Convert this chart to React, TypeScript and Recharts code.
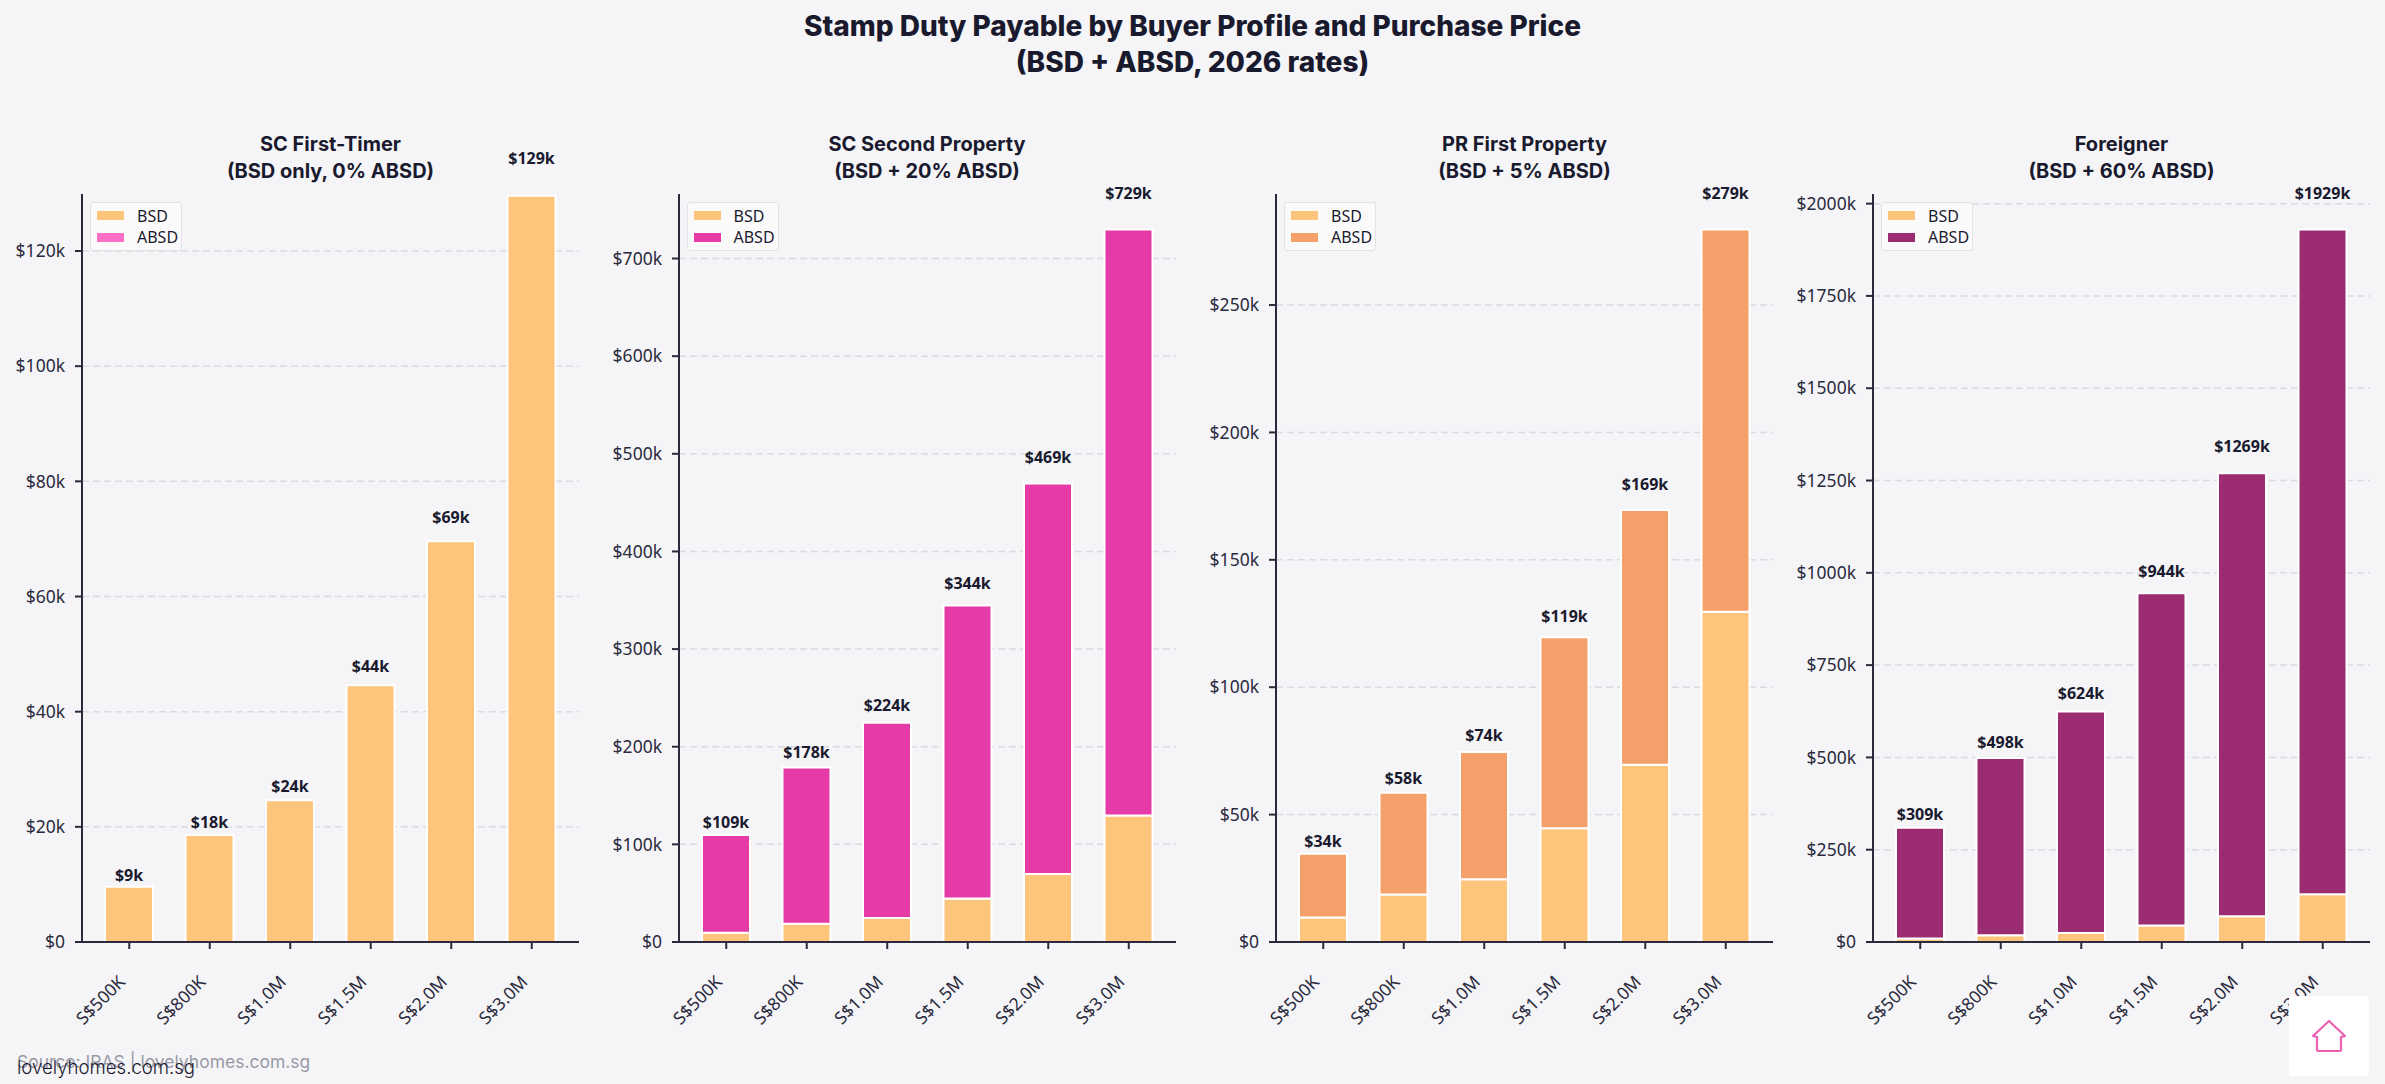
import React from "react";
import { BarChart, Bar, XAxis, YAxis, CartesianGrid, Legend, LabelList } from "recharts";

const categories = ["S$500K", "S$800K", "S$1.0M", "S$1.5M", "S$2.0M", "S$3.0M"];
const bsd = [9600, 18600, 24600, 44600, 69600, 129600];
const absdFirstTimer = [0, 0, 0, 0, 0, 0];
const absdSecond = [100000, 160000, 200000, 300000, 400000, 600000];
const absdPr = [25000, 40000, 50000, 75000, 100000, 150000];
const absdForeigner = [300000, 480000, 600000, 900000, 1200000, 1800000];
const totalLabels1 = ["$9k", "$18k", "$24k", "$44k", "$69k", "$129k"];
const totalLabels2 = ["$109k", "$178k", "$224k", "$344k", "$469k", "$729k"];
const totalLabels3 = ["$34k", "$58k", "$74k", "$119k", "$169k", "$279k"];
const totalLabels4 = ["$309k", "$498k", "$624k", "$944k", "$1269k", "$1929k"];
const ticks1 = [0, 20000, 40000, 60000, 80000, 100000, 120000];
const ticks2 = [0, 100000, 200000, 300000, 400000, 500000, 600000, 700000];
const ticks3 = [0, 50000, 100000, 150000, 200000, 250000];
const ticks4 = [0, 250000, 500000, 750000, 1000000, 1250000, 1500000, 1750000, 2000000];

const BG = "#F5F5F8";
const INK = "#1A1A2E";
const BSD_COLOR = "#FDC57B";
const TITLE_FONT = "Inter, 'Noto Sans', sans-serif";
const TICK_FONT = "'Noto Sans', 'Open Sans', sans-serif";
const PLOT_TOP = 194;
const PLOT_BOTTOM = 942;
const CHART_H = 1084;
const CHART_W = 597;
const AXIS_X = 82;

const panels = [
  { left: 0, title: ["SC First-Timer", "(BSD only, 0% ABSD)"], absd: absdFirstTimer, labels: totalLabels1, ticks: ticks1, max: 129900, color: "#FF6EC7", labelOn: "BSD" },
  { left: 596.5, title: ["SC Second Property", "(BSD + 20% ABSD)"], absd: absdSecond, labels: totalLabels2, ticks: ticks2, max: 766080, color: "#E63BA6", labelOn: "ABSD" },
  { left: 1194, title: ["PR First Property", "(BSD + 5% ABSD)"], absd: absdPr, labels: totalLabels3, ticks: ticks3, max: 293580, color: "#F4A06A", labelOn: "ABSD" },
  { left: 1791, title: ["Foreigner", "(BSD + 60% ABSD)"], absd: absdForeigner, labels: totalLabels4, ticks: ticks4, max: 2026080, color: "#9B2C72", labelOn: "ABSD" },
];

const fmt = (v: number) => (v === 0 ? "$0" : `$${Math.round(v / 1000)}k`);

function XTick({ x, y, payload }: any) {
  const ax = x - 3;
  const ay = y + 32;
  return (
    <text
      x={ax}
      y={ay}
      textAnchor="end"
      fontFamily={TICK_FONT}
      fontSize={17.5}
      fill="#2A2A3C"
      transform={`rotate(-45 ${ax} ${ay})`}
    >
      {payload.value}
    </text>
  );
}

function LegendBox({ payload }: any) {
  return (
    <div
      style={{
        boxSizing: "border-box",
        width: 92,
        height: 49,
        background: "rgba(250,250,252,0.85)",
        border: "1.5px solid #E2E2E6",
        borderRadius: 3,
        padding: "2px 0 0 6px",
        fontFamily: TICK_FONT,
        fontSize: 16,
        color: INK,
      }}
    >
      {(payload || []).map((p: any) => (
        <div key={p.value} style={{ display: "flex", alignItems: "center", height: 21.5 }}>
          <span style={{ width: 27, height: 9, background: p.color, marginRight: 13, display: "inline-block" }} />
          <span>{p.value}</span>
        </div>
      ))}
    </div>
  );
}

function totalLabel(labels: string[]) {
  return (props: any) => {
    const { x, y, width, index } = props;
    const h = PLOT_BOTTOM - y;
    return (
      <text
        x={x + width / 2}
        y={y - 9.2 - 0.0384 * h}
        textAnchor="middle"
        dominantBaseline="central"
        fontFamily={TICK_FONT}
        fontWeight={700}
        fontSize={16}
        fill={INK}
      >
        {labels[index]}
      </text>
    );
  };
}

function Panel({ panel }: { panel: (typeof panels)[number] }) {
  const data = categories.map((c, i) => ({ category: c, BSD: bsd[i], ABSD: panel.absd[i] }));
  return (
    <div style={{ position: "absolute", left: panel.left, top: 0, width: CHART_W, height: CHART_H }}>
      <BarChart
        width={CHART_W}
        height={CHART_H}
        data={data}
        margin={{ top: PLOT_TOP, right: 18, bottom: 62, left: 0 }}
        barCategoryGap={0}
      >
        <XAxis
          dataKey="category"
          height={80}
          padding={{ left: 7, right: 7 }}
          tick={<XTick />}
          interval={0}
          tickSize={7}
          stroke="#2A2A3C"
          strokeWidth={2}
        />
        <YAxis
          width={AXIS_X}
          domain={[0, panel.max]}
          ticks={panel.ticks}
          tickFormatter={fmt}
          tickSize={7}
          tickMargin={10}
          stroke="#2A2A3C"
          strokeWidth={2}
          allowDataOverflow
          tick={{ fontFamily: TICK_FONT, fontSize: 17.5, fill: "#2A2A3C" }}
        />
        <Bar dataKey="BSD" stackId="a" fill={BSD_COLOR} stroke="#FFFFFF" strokeWidth={2} barSize={48} isAnimationActive={false}>
          {panel.labelOn === "BSD" ? <LabelList dataKey="BSD" content={totalLabel(panel.labels)} /> : null}
        </Bar>
        <Bar dataKey="ABSD" stackId="a" fill={panel.color} stroke="#FFFFFF" strokeWidth={2} barSize={48} isAnimationActive={false}>
          {panel.labelOn === "ABSD" ? <LabelList dataKey="ABSD" content={totalLabel(panel.labels)} /> : null}
        </Bar>
        <CartesianGrid vertical={false} syncWithTicks stroke="#808090" strokeOpacity={0.22} strokeWidth={1.5} strokeDasharray="7 4" />
        <Legend
          content={<LegendBox />}
          layout="vertical"
          verticalAlign="middle"
          align="center"
          itemSorter={null as any}
          wrapperStyle={{ position: "absolute", left: 90, top: 202, width: 92, height: 49 }}
        />
      </BarChart>
      <div
        style={{
          position: "absolute",
          left: AXIS_X,
          width: 497,
          top: 131,
          textAlign: "center",
          fontFamily: TITLE_FONT,
          fontWeight: 700,
          fontSize: 20,
          lineHeight: "27px",
          color: INK,
        }}
      >
        {panel.title.map((t) => (
          <div key={t}>{t}</div>
        ))}
      </div>
    </div>
  );
}

export default function App() {
  return (
    <div style={{ position: "absolute", left: 0, top: 0, width: 2385, height: 1084, background: BG, overflow: "hidden" }}>
      <div
        style={{
          position: "absolute",
          left: 0,
          width: 2385,
          top: 8,
          textAlign: "center",
          fontFamily: TITLE_FONT,
          fontWeight: 800,
          fontSize: 28,
          lineHeight: "36px",
          color: INK,
        }}
      >
        <div>Stamp Duty Payable by Buyer Profile and Purchase Price</div>
        <div>(BSD + ABSD, 2026 rates)</div>
      </div>
      {panels.map((p) => (
        <Panel key={p.left} panel={p} />
      ))}
      <div style={{ position: "absolute", left: 17, top: 1051, fontFamily: TITLE_FONT, fontSize: 17.5, color: "#9A9AA6" }}>
        Source: IRAS | lovelyhomes.com.sg
      </div>
      <div style={{ position: "absolute", left: 17, top: 1056, fontFamily: TITLE_FONT, fontWeight: 300, fontSize: 18.6, color: INK }}>
        lovelyhomes.com.sg
      </div>
      <div style={{ position: "absolute", left: 2289, top: 996, width: 80, height: 80, background: "#FFFFFF", borderRadius: 3 }}>
        <svg width={80} height={80} viewBox="0 0 80 80">
          <path d="M40 25 L56 40 L52 41 L52 54 Q52 55 51 55 L29 55 Q28 55 28 54 L28 41 L24 40 Z" fill="none" stroke="#EE5FB4" strokeWidth={2.2} strokeLinejoin="round" />
        </svg>
      </div>
    </div>
  );
}
